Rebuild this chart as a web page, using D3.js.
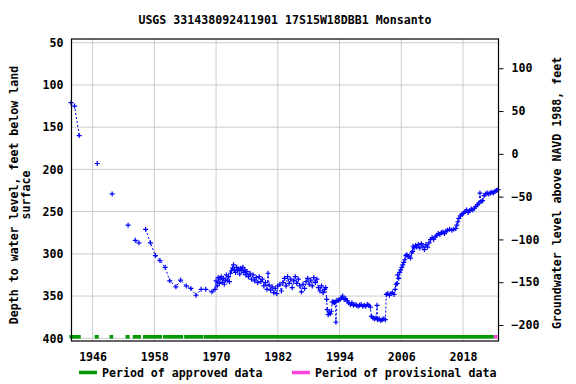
<!DOCTYPE html>
<html>
<head>
<meta charset="utf-8">
<script src="https://cdn.jsdelivr.net/npm/d3@7"></script>
<style>
  body { margin: 0; background: #fff; }
  text { font-family: "DejaVu Sans Mono", monospace; font-weight: bold; font-size: 11.6px; fill: #000; }
</style>
</head>
<body>
<div id="chart"></div>
<script>
// sample dates (decimal years) and depth to water, feet below land surface
const years = [
  1941.8, 1942.5, 1943.4, 1946.9, 1949.8, 1952.9, 1954.3, 1955.0,
  1956.3, 1957.25, 1958.2, 1959.1, 1960.1, 1961.0, 1962.2, 1963.1, 1964.2, 1965.1,
  1966.1, 1967.1, 1968.0, 1969.2, 1969.8,
  1970.0, 1970.2, 1970.4, 1970.6, 1970.8, 1971.0, 1971.2, 1971.4, 1971.6, 1971.8,
  1972.0, 1972.2, 1972.4, 1972.6, 1972.8, 1973.0, 1973.2, 1973.4, 1973.6, 1973.8,
  1974.0, 1974.2, 1974.4, 1974.6, 1974.8, 1975.0, 1975.2, 1975.4, 1975.6, 1975.8,
  1976.0, 1976.3, 1976.6, 1976.9, 1977.2, 1977.5, 1977.8, 1978.1, 1978.4, 1978.7,
  1979.0, 1979.3, 1979.6, 1979.9, 1980.1, 1980.3, 1980.6, 1980.9, 1981.2, 1981.5,
  1981.8, 1982.0, 1982.4, 1982.7, 1983.0, 1983.3, 1983.6, 1983.9, 1984.2, 1984.5,
  1984.8, 1985.1, 1985.4, 1985.7, 1986.0, 1986.3, 1986.6, 1986.9, 1987.2, 1987.5,
  1987.8, 1988.1, 1988.4, 1988.7, 1989.0, 1989.3, 1989.6, 1989.9, 1990.2, 1990.5,
  1990.8, 1991.1, 1991.3, 1991.5, 1991.6, 1991.8, 1992.0, 1992.2, 1992.4, 1992.6,
  1992.8, 1993.0, 1993.2, 1993.3, 1993.5, 1993.8, 1994.1, 1994.4, 1994.6, 1994.9,
  1995.2, 1995.5, 1995.8, 1996.1, 1996.4, 1996.7, 1997.0, 1997.3, 1997.6, 1997.9,
  1998.2, 1998.5, 1998.8, 1999.1, 1999.4, 1999.7, 2000.0, 2000.2, 2000.5, 2000.8,
  2001.1, 2001.3, 2001.4, 2001.7, 2002.0, 2002.3, 2002.6, 2002.9, 2003.1, 2003.4,
  2003.7, 2004.0, 2004.3, 2004.6, 2004.8, 2005.0, 2005.2, 2005.3, 2005.5, 2005.7,
  2005.9, 2006.1, 2006.3, 2006.5, 2006.7, 2006.9, 2007.1, 2007.3, 2007.5, 2007.8,
  2008.0, 2008.2, 2008.3, 2008.5, 2008.8, 2009.0, 2009.3, 2009.6, 2009.9, 2010.2,
  2010.5, 2010.8, 2011.1, 2011.4, 2011.7, 2012.0, 2012.3, 2012.6, 2012.9, 2013.2,
  2013.5, 2013.8, 2014.1, 2014.4, 2014.7, 2015.0, 2015.4, 2015.8, 2016.2, 2016.6,
  2016.8, 2017.0, 2017.2, 2017.5, 2017.8, 2018.1, 2018.4, 2018.7, 2019.0, 2019.3,
  2019.6, 2019.9, 2020.2, 2020.5, 2020.8, 2021.1, 2021.3, 2021.5, 2021.8, 2022.1,
  2022.4, 2022.7, 2023.0, 2023.3, 2023.6, 2023.9, 2024.2, 2024.5, 2024.8
];
const depths = [
  121, 125, 160, 193, 229, 266, 284, 287,
  271, 287, 302, 308, 316, 332, 339, 331, 338, 341,
  349, 342, 342, 345, 342,
  332, 338, 328, 335, 330, 327, 334, 329, 336, 331,
  325, 332, 327, 333, 323, 320, 317, 313, 319, 322,
  316, 320, 318, 324, 317, 320, 316, 322, 319, 325,
  321, 327, 323, 330, 325, 332, 328, 334, 327, 333,
  330, 338, 334, 342, 323, 337, 343, 339, 346, 341,
  347, 338, 336, 344, 334, 329, 338, 327, 335, 330,
  340, 332, 327, 335, 330, 338, 345, 336, 341, 333,
  329, 336, 331, 338, 328, 334, 330, 340, 344, 338,
  346, 342, 340, 354, 366, 372, 369, 371, 368, 357,
  357, 358, 357, 381, 355, 355, 354, 352, 350, 354,
  353, 356, 358, 360, 358, 361, 360, 361, 362, 361,
  360, 362, 361, 362, 360, 361, 363, 374, 376, 377,
  376, 361, 378, 377, 379, 378, 377, 378, 348, 347,
  349, 347, 346, 348, 342, 336, 335, 325, 329, 322,
  319, 316, 313, 310, 307, 302, 301, 303, 303, 305,
  299, 297, 291, 293, 290, 292, 289, 293, 288, 291,
  295, 289, 292, 287, 283, 281, 283, 280, 278, 276,
  277, 275, 274, 276, 273, 272, 271, 272, 271, 270,
  266, 262, 258, 255, 253, 252, 250, 248, 251, 249,
  247, 248, 246, 244, 242, 240, 228, 238, 237, 231,
  229, 228, 229, 228, 227, 228, 226, 225, 224
];

// data-approval periods along the bottom
const approvedStart = [1941.5, 1946.4, 1949.3, 1952.4, 1953.8, 1955.8, 1959.7, 1963.8, 1967.6];
const approvedEnd   = [1943.7, 1947.2, 1950.0, 1953.2, 1955.4, 1959.5, 1963.6, 1967.5, 2024.0];
const provisionalStart = [2024.0];
const provisionalEnd   = [2024.7];

const yearTicks = [1946, 1958, 1970, 1982, 1994, 2006, 2018];
const depthTicks = [50, 100, 150, 200, 250, 300, 350, 400];
const elevTicks = [100, 50, 0, -50, -100, -150, -200];

const width = 576, height = 384;
const margin = { top: 39, right: 77.5, bottom: 43, left: 71.5 };
const x0 = margin.left, x1 = width - margin.right;
const y0 = margin.top, y1 = height - margin.bottom;

const svg = d3.select("#chart").append("svg")
  .attr("width", width)
  .attr("height", height);

const x = d3.scaleLinear().domain([1941.9, 2024.9]).range([x0, x1]);
const y = d3.scaleLinear().domain([45.6, 403.2]).range([y0, y1]);
const yRight = d3.scaleLinear().domain([134.2, -218.7]).range([y0, y1]);

// grid
svg.append("g").selectAll("line")
  .data(yearTicks).enter().append("line")
  .attr("x1", d => x(d)).attr("x2", d => x(d))
  .attr("y1", y0).attr("y2", y1)
  .attr("stroke", "#cccccc").attr("stroke-width", 1);
svg.append("g").selectAll("line")
  .data(depthTicks).enter().append("line")
  .attr("x1", x0).attr("x2", x1)
  .attr("y1", d => y(d)).attr("y2", d => y(d))
  .attr("stroke", "#cccccc").attr("stroke-width", 1);

// approval bars
svg.append("g").selectAll("rect")
  .data(approvedStart.map((s, i) => [s, approvedEnd[i]])).enter().append("rect")
  .attr("x", d => x(d[0])).attr("width", d => x(d[1]) - x(d[0]))
  .attr("y", y1 - 6).attr("height", 3.6)
  .attr("fill", "#009900");
svg.append("g").selectAll("rect")
  .data(provisionalStart.map((s, i) => [s, provisionalEnd[i]])).enter().append("rect")
  .attr("x", d => x(d[0])).attr("width", d => x(d[1]) - x(d[0]))
  .attr("y", y1 - 6).attr("height", 3.6)
  .attr("fill", "#ff44dd");

// split series where the gap between samples is long
const pts = years.map((t, i) => [t, depths[i]]);
const segments = [];
pts.forEach((p, i) => {
  if (i === 0 || p[0] - pts[i - 1][0] > 1.25) segments.push([]);
  segments[segments.length - 1].push(p);
});

const line = d3.line().x(d => x(d[0])).y(d => y(d[1]));
svg.append("g").selectAll("path")
  .data(segments.filter(s => s.length > 1)).enter().append("path")
  .attr("d", line)
  .attr("fill", "none")
  .attr("stroke", "#0000ff")
  .attr("stroke-width", 1)
  .attr("stroke-dasharray", "2,2");

svg.append("g").selectAll("path")
  .data(pts).enter().append("path")
  .attr("d", d => `M${x(d[0]) - 2.5},${y(d[1])}h5M${x(d[0])},${y(d[1]) - 2.5}v5`)
  .attr("stroke", "#0000ff")
  .attr("stroke-width", 1.2);

// frame
svg.append("rect")
  .attr("x", x0).attr("y", y0)
  .attr("width", x1 - x0).attr("height", y1 - y0)
  .attr("fill", "none").attr("stroke", "#000").attr("stroke-width", 1.2);

// axes
const left = svg.append("g").attr("transform", `translate(${x0},0)`)
  .call(d3.axisLeft(y).tickValues(depthTicks).tickSize(0).tickPadding(8));
const right = svg.append("g").attr("transform", `translate(${x1},0)`)
  .call(d3.axisRight(yRight).tickValues(elevTicks).tickSize(5).tickPadding(8));
const bottom = svg.append("g").attr("transform", `translate(0,${y1})`)
  .call(d3.axisBottom(x).tickValues(yearTicks).tickFormat(d3.format("d")).tickSize(0).tickPadding(12));
[left, right, bottom].forEach(g => {
  g.select(".domain").remove();
  g.selectAll("text").attr("font-family", null).attr("font-size", null);
  g.selectAll("line").attr("stroke", "#000");
});

// title and labels
svg.append("text")
  .attr("x", 285).attr("y", 24)
  .attr("text-anchor", "middle")
  .text("USGS 331438092411901 17S15W18DBB1 Monsanto");

svg.append("text")
  .attr("transform", "translate(18,195) rotate(-90)")
  .attr("text-anchor", "middle")
  .text("Depth to water level, feet below land");
svg.append("text")
  .attr("transform", "translate(30,195) rotate(-90)")
  .attr("text-anchor", "middle")
  .text("surface");

svg.append("text")
  .attr("transform", "translate(561,193) rotate(-90)")
  .attr("text-anchor", "middle")
  .text("Groundwater level above NAVD 1988, feet");

// legend
const legend = [
  { label: "Period of approved data", color: "#009900", x: 79 },
  { label: "Period of provisional data", color: "#ff44dd", x: 292 }
];
const lg = svg.append("g").selectAll("g").data(legend).enter().append("g");
lg.append("line")
  .attr("x1", d => d.x).attr("x2", d => d.x + 18)
  .attr("y1", 372.5).attr("y2", 372.5)
  .attr("stroke", d => d.color).attr("stroke-width", 3.5);
lg.append("text")
  .attr("x", d => d.x + 23).attr("y", 376.5)
  .text(d => d.label);
</script>
</body>
</html>
